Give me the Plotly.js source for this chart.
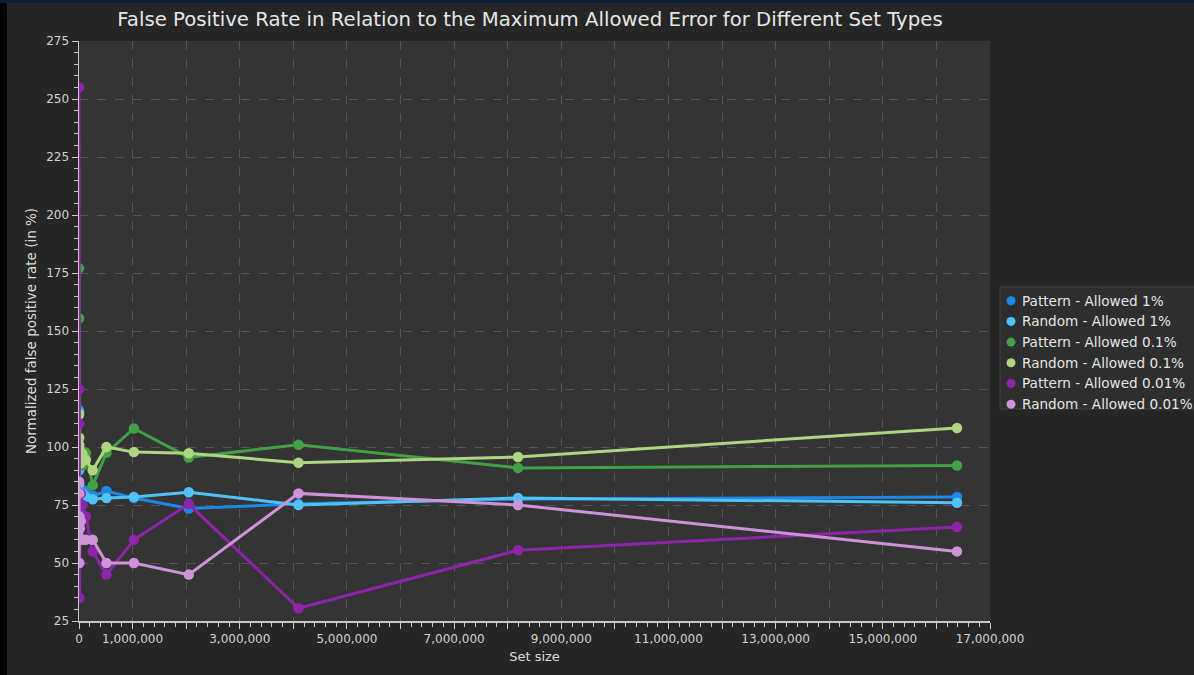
<!DOCTYPE html>
<html>
<head>
<meta charset="utf-8">
<script src="https://cdn.plot.ly/plotly-3.0.1.min.js"></script>
<style>
  html, body { margin: 0; padding: 0; background: #000; width: 1194px; height: 675px; overflow: hidden; }
  #chart { position: absolute; left: 0; top: 0; width: 1270px; height: 675px; }
  #leftstrip { position: absolute; left: 0; top: 0; width: 7px; height: 675px; background: #050505; }
  #topstrip { position: absolute; left: 0; top: 0; width: 1194px; height: 3px; background: #0b1d3d; }
</style>
</head>
<body>
<div id="chart"></div>
<div id="leftstrip"></div>
<div id="topstrip"></div>
<script>
// Set sizes (x values)
const setSizes = [1000, 2000, 4000, 8000, 16000, 32000, 64000, 128000, 256000, 512000, 1024000, 2048000, 4096000, 8192000, 16384000];

// Normalized false positive rate (in %) per series
const patternAllowed1 = [116, 85, 72, 80, 78, 82, 79, 81, 79, 81, 78, 73.5, 75.5, 77.5, 78.5];
const randomAllowed1 = [115, 90, 84, 76, 79, 77, 80, 78.5, 77.5, 78, 78.5, 80.5, 75, 78, 76];
const patternAllowed01 = [177, 155.5, 104, 100, 97, 94, 92, 97.5, 83.5, 97.5, 108, 95.5, 101, 91, 92];
const randomAllowed01 = [114, 104, 101, 99, 96, 93, 97, 94.5, 90, 100, 97.8, 97.3, 93.2, 95.7, 108.2];
const patternAllowed001 = [255, 125, 110, 35, 50, 80, 75, 70, 55, 45, 60, 75.4, 30.5, 55.5, 65.5];
const randomAllowed001 = [85, 50, 80, 70, 65, 68, 60, 60, 60, 50, 50, 45, 80, 75, 55];

const seriesNames = ["Pattern - Allowed 1%", "Random - Allowed 1%", "Pattern - Allowed 0.1%", "Random - Allowed 0.1%", "Pattern - Allowed 0.01%", "Random - Allowed 0.01%"];
const seriesValues = [patternAllowed1, randomAllowed1, patternAllowed01, randomAllowed01, patternAllowed001, randomAllowed001];
const seriesColors = ["#1e88e5", "#4fc3f7", "#43a047", "#aed581", "#8e24aa", "#ce93d8"];

// X tick positions and labels
const xTickVals = [0, 1000000, 2000000, 3000000, 4000000, 5000000, 6000000, 7000000, 8000000, 9000000, 10000000, 11000000, 12000000, 13000000, 14000000, 15000000, 16000000, 17000000];
const xTickText = ["0", "1,000,000", "", "3,000,000", "", "5,000,000", "", "7,000,000", "", "9,000,000", "", "11,000,000", "", "13,000,000", "", "15,000,000", "", "17,000,000"];

const traces = seriesNames.map((name, i) => ({
  type: "scatter",
  mode: "lines+markers",
  name: name,
  showlegend: false,
  x: setSizes,
  y: seriesValues[i],
  line: { color: seriesColors[i], width: 3 },
  marker: { color: seriesColors[i], size: 10.5 }
}));

// Plot-area geometry in pixels (used to place the legend box)
const plotLeft = 79, plotRight = 990, plotTop = 41, plotBottom = 621;
const W = 1270, H = 675;
const pxX = (px) => (px - plotLeft) / (plotRight - plotLeft);
const pxY = (py) => (plotBottom - py) / (plotBottom - plotTop);

// Legend drawn as shapes + annotations (circle symbol only, as in the reference)
const legendTop = 287, legendBottom = 409, legendLeft = 1000, rowStep = 20.7, firstRow = 300.7;
const shapes = [{
  type: "rect", xref: "paper", yref: "paper",
  x0: pxX(legendLeft), x1: pxX(1230), y0: pxY(legendBottom), y1: pxY(legendTop),
  fillcolor: "#2e2e2e", line: { color: "#424242", width: 1 }, layer: "above"
}];
const annotations = [];
seriesNames.forEach((name, i) => {
  const cy = firstRow + i * rowStep;
  shapes.push({
    type: "circle", xref: "paper", yref: "paper",
    xsizemode: "pixel", ysizemode: "pixel",
    xanchor: pxX(1011), yanchor: pxY(cy),
    x0: -4.5, x1: 4.5, y0: -4.5, y1: 4.5,
    fillcolor: seriesColors[i], line: { width: 0 }, layer: "above"
  });
  annotations.push({
    xref: "paper", yref: "paper", x: pxX(1020), y: pxY(cy),
    xanchor: "left", yanchor: "middle", showarrow: false,
    text: name,
    font: { family: "DejaVu Sans, sans-serif", size: 13.6, color: "#e6e6e6" }
  });
});

const axisFont = { family: "DejaVu Sans, sans-serif", size: 12, color: "#d2d2d2" };

const layout = {
  width: W,
  height: H,
  paper_bgcolor: "#262626",
  plot_bgcolor: "#343434",
  margin: { l: plotLeft, r: W - plotRight, t: plotTop, b: H - plotBottom, pad: 0 },
  font: { family: "DejaVu Sans, sans-serif", color: "#dddddd" },
  showlegend: false,
  title: {
    text: "False Positive Rate in Relation to the Maximum Allowed Error for Different Set Types",
    font: { family: "DejaVu Sans, sans-serif", size: 19.7, color: "#e6e6e6" },
    xref: "container", x: 530 / W, xanchor: "center", y: 0.971, yanchor: "middle"
  },
  xaxis: {
    range: [0, 17000000],
    tickmode: "array",
    tickvals: xTickVals,
    ticktext: xTickText,
    tickfont: axisFont,
    ticks: "outside",
    ticklen: 6,
    tickcolor: "#c8c8c8",
    tickwidth: 1,
    showline: true,
    linecolor: "#c8c8c8",
    linewidth: 1.5,
    showgrid: true,
    gridcolor: "#555555",
    griddash: "dash",
    gridwidth: 1,
    zeroline: false,
    minor: { tickmode: "linear", tick0: 0, dtick: 200000, ticks: "outside", ticklen: 4, tickcolor: "#c8c8c8", showgrid: false },
    title: { text: "Set size", font: { family: "DejaVu Sans, sans-serif", size: 13, color: "#dddddd" }, standoff: 7 }
  },
  yaxis: {
    range: [25, 275],
    tickmode: "linear",
    tick0: 25,
    dtick: 25,
    tickfont: axisFont,
    ticks: "outside",
    ticklen: 6,
    tickcolor: "#c8c8c8",
    showline: true,
    linecolor: "#c8c8c8",
    linewidth: 1.5,
    showgrid: true,
    gridcolor: "#555555",
    griddash: "dash",
    zeroline: false,
    minor: { tickmode: "linear", tick0: 25, dtick: 5, ticks: "outside", ticklen: 4, tickcolor: "#c8c8c8", showgrid: false },
    title: { text: "Normalized false positive rate (in %)", font: { family: "DejaVu Sans, sans-serif", size: 13.5, color: "#dddddd" }, standoff: 6 }
  },
  shapes: shapes,
  annotations: annotations
};

Plotly.newPlot("chart", traces, layout, { displayModeBar: false, staticPlot: true });
</script>
</body>
</html>
